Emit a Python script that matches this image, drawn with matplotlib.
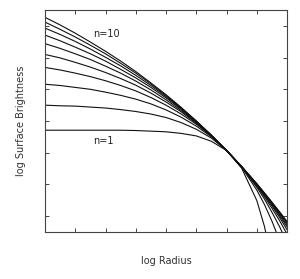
import numpy as np
import matplotlib
matplotlib.use("Agg")
import matplotlib.pyplot as plt

log_r = [0, 0.5, 1, 1.5, 2, 2.5, 3, 3.5, 4, 4.5, 5, 5.5, 6, 6.5, 7, 7.25, 7.5, 7.75, 8]

# log surface brightness for Sersic index n = 1..10
n1 = [3.21, 3.21, 3.21, 3.21, 3.21, 3.21, 3.20, 3.18, 3.16, 3.11, 3.03, 2.86, 2.57, 2.01, 0.99, 0.18, -0.91, -2.4, -4.0]
n2 = [4.00, 3.98, 3.97, 3.94, 3.91, 3.86, 3.80, 3.72, 3.61, 3.45, 3.24, 2.96, 2.57, 2.04, 1.32, 0.87, 0.34, -0.27, -0.99]
n3 = [4.66, 4.62, 4.56, 4.50, 4.41, 4.31, 4.19, 4.04, 3.85, 3.62, 3.34, 3.00, 2.57, 2.05, 1.41, 1.04, 0.62, 0.17, -0.34]
n4 = [5.19, 5.11, 5.01, 4.90, 4.77, 4.62, 4.45, 4.24, 4.00, 3.72, 3.40, 3.02, 2.57, 2.06, 1.45, 1.11, 0.75, 0.36, -0.07]
n5 = [5.60, 5.49, 5.35, 5.20, 5.03, 4.84, 4.63, 4.38, 4.10, 3.79, 3.43, 3.03, 2.57, 2.06, 1.48, 1.16, 0.82, 0.46, 0.07]
n6 = [5.94, 5.79, 5.62, 5.44, 5.23, 5.01, 4.76, 4.48, 4.17, 3.83, 3.45, 3.04, 2.57, 2.06, 1.49, 1.18, 0.86, 0.52, 0.16]
n7 = [6.21, 6.03, 5.83, 5.62, 5.39, 5.13, 4.86, 4.56, 4.23, 3.87, 3.47, 3.04, 2.57, 2.06, 1.50, 1.20, 0.89, 0.56, 0.22]
n8 = [6.43, 6.23, 6.01, 5.77, 5.51, 5.24, 4.94, 4.62, 4.27, 3.89, 3.49, 3.05, 2.57, 2.06, 1.51, 1.22, 0.91, 0.60, 0.27]
n9 = [6.62, 6.39, 6.15, 5.89, 5.62, 5.32, 5.01, 4.67, 4.30, 3.91, 3.50, 3.05, 2.57, 2.06, 1.52, 1.23, 0.93, 0.62, 0.30]
n10 = [6.77, 6.53, 6.27, 5.99, 5.70, 5.39, 5.06, 4.70, 4.33, 3.93, 3.50, 3.05, 2.57, 2.06, 1.52, 1.23, 0.94, 0.64, 0.33]
profiles = [n1, n2, n3, n4, n5, n6, n7, n8, n9, n10]

fig = plt.figure(figsize=(3.0, 2.79), dpi=100)
ax = fig.add_axes([0.15, 0.1685, 0.807, 0.7955])

for prof in profiles:
    ax.plot(log_r, prof, color="#111111", lw=0.8)

ax.set_xlim(0, 8)
ax.set_ylim(0, 7)
ax.set_xticks(np.arange(1, 8))
ax.set_yticks(np.arange(0.5, 7, 1))
ax.tick_params(direction="in", length=3, width=0.7, color="#444444",
               top=True, right=True, labelbottom=False, labelleft=False)
for sp in ax.spines.values():
    sp.set_color("#444444")
    sp.set_linewidth(0.8)

ax.text(1.59, 6.25, "n=10", fontsize=7, color="#222222", va="center", ha="left")
ax.text(1.59, 2.87, "n=1", fontsize=7, color="#222222", va="center", ha="left")

ax.set_xlabel("log Radius", fontsize=7, color="#333333", labelpad=17)
ax.set_ylabel("log Surface Brightness", fontsize=7, color="#333333", labelpad=14)

fig.savefig("out.png", dpi=100)
